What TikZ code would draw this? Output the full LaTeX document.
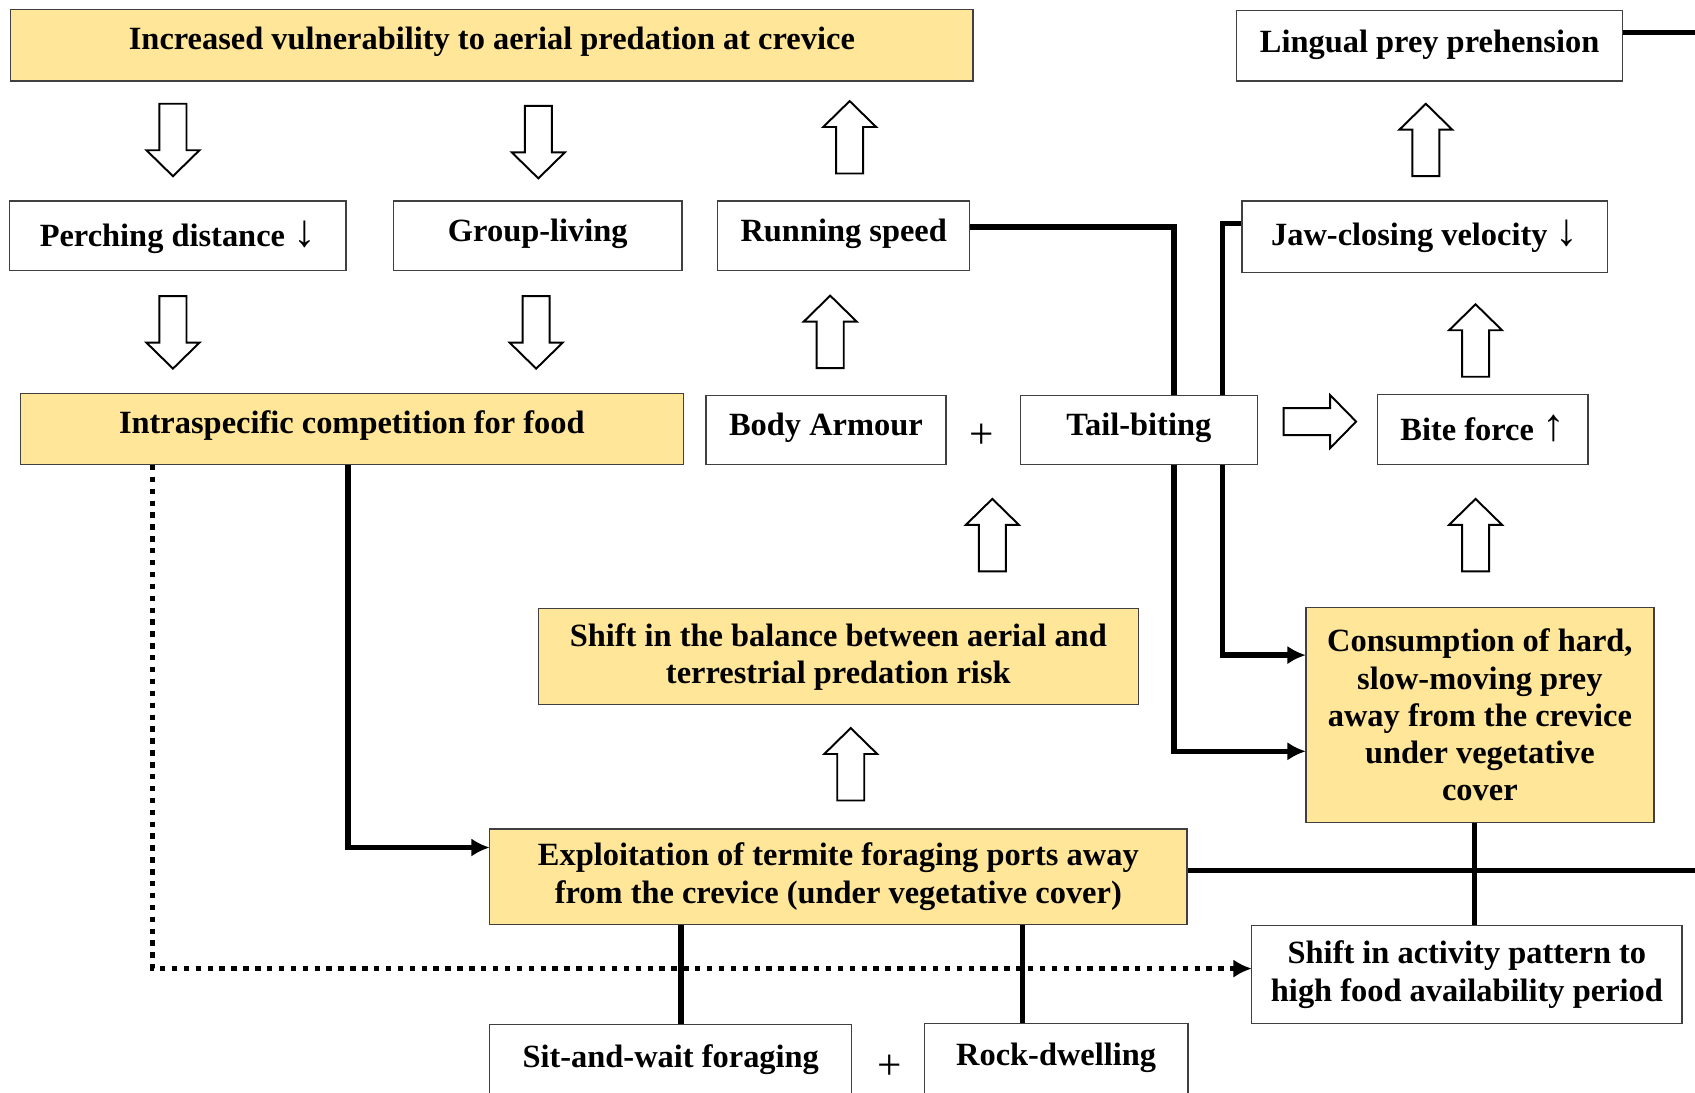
\documentclass[tikz,border=0pt]{standalone}
\usepackage{fontspec}
\setmainfont{Liberation Serif}
\usetikzlibrary{arrows.meta,backgrounds,calc}
\definecolor{boxyellow}{HTML}{FFE699}
\definecolor{bordergray}{HTML}{404040}
\newcommand{\diagfont}{\bfseries\fontsize{15}{17.25}\selectfont}
\newcommand{\dnarrow}{{\mdseries\fontsize{21}{21}\selectfont\char"2193}}
\newcommand{\uparr}{{\mdseries\fontsize{21}{21}\selectfont\char"2191}}
\tikzset{
  base/.style={draw=bordergray, line width=0.6pt, inner sep=0pt, outer sep=0pt, font=\diagfont, align=center},
  wbox/.style={base, fill=white, text height=10.5pt, text depth=#1},
  wbox/.default=3.75pt,
  ybox/.style={base, fill=boxyellow, text height=10.5pt, text depth=#1},
  ybox/.default=3.75pt,
  wmulti/.style={base, fill=white},
  ymulti/.style={base, fill=boxyellow},
  conn/.style={line width=2.4pt, -{Latex[length=8.5pt,width=8.5pt]}},
  plainline/.style={line width=2.4pt},
  dotconn/.style={line width=2.5pt, dash pattern=on 2.5pt off 3pt, -{Latex[length=8.5pt,width=8.5pt]}},
  plussign/.style={inner sep=0pt, font=\fontsize{20}{20}\selectfont},
  harrow/.pic={\draw[line width=0.9pt, fill=white] (-12.5,33.5) -- (-12.5,-9.5) -- (-24.5,-9.5) -- (0,-33.5) -- (24.5,-9.5) -- (12.5,-9.5) -- (12.5,33.5) -- cycle;}
}
\begin{document}
\begin{tikzpicture}[x=0.5pt,y=-0.5pt]
\path[use as bounding box] (0,0) rectangle (1568,1011);

% nodes
\node[ybox=6.75pt, minimum width=445pt, minimum height=33pt] (top) at (455,42) {Increased vulnerability to aerial predation at crevice};
\node[wbox=4.25pt, minimum width=178.5pt, minimum height=32.5pt] (lingual) at (1322.5,42.5) {Lingual prey prehension};

\node[wbox=0.75pt, minimum width=155.5pt, minimum height=32pt] (perch) at (164.5,218) {Perching distance \dnarrow};
\node[wbox=5.25pt, minimum width=133.5pt, minimum height=32pt] (group) at (497.5,218) {Group-living};
\node[wbox=5.25pt, minimum width=116.5pt, minimum height=32pt] (run) at (780.5,218) {Running speed};
\node[wbox=2.25pt, minimum width=169pt, minimum height=33pt] (jaw) at (1318,219) {Jaw-closing velocity \dnarrow};

\node[ybox=6.75pt, minimum width=306.5pt, minimum height=33pt] (intra) at (325.5,397) {Intraspecific competition for food};
\node[wbox=5.25pt, minimum width=111pt, minimum height=32pt] (armour) at (764,398) {Body Armour};
\node[plussign] (plusA) at (908,404) {+};
\node[wbox=5.25pt, minimum width=109.5pt, minimum height=32pt] (tail) at (1053.5,398) {Tail-biting};
\node[wbox=0.75pt, minimum width=97.5pt, minimum height=32.5pt] (bite) at (1371.5,397.5) {Bite force \uparr};

\node[ymulti, minimum width=277.5pt, minimum height=44.5pt] (balance) at (775.5,607.5) {Shift in the balance between aerial and\\terrestrial predation risk};
\node[ymulti, minimum width=161pt, minimum height=99.5pt] (consump) at (1369,661.5) {Consumption of hard,\\slow-moving prey\\away from the crevice\\under vegetative\\cover};
\node[ymulti, minimum width=322.5pt, minimum height=44pt] (exploit) at (775.5,811) {Exploitation of termite foraging ports away\\from the crevice (under vegetative cover)};
\node[wmulti, minimum width=199pt, minimum height=45.5pt] (activity) at (1357,901.5) {Shift in activity pattern to\\high food availability period};

\node[wbox=21.25pt, anchor=north, minimum width=167.5pt, minimum height=50pt] (sit) at (620.5,948) {Sit-and-wait foraging};
\node[plussign] (plusB) at (823,987) {+};
\node[wbox=22.25pt, anchor=north, minimum width=122pt, minimum height=50pt] (rock) at (977,947) {Rock-dwelling};

% hollow block arrows
\pic[rotate=180] at (160,129.5) {harrow};
\pic[rotate=180] at (498,131.5) {harrow};
\pic at (786,127) {harrow};
\pic at (1319,129.5) {harrow};
\pic[rotate=180] at (160,307.5) {harrow};
\pic[rotate=180] at (496,307.5) {harrow};
\pic at (768,307) {harrow};
\pic at (1365,315) {harrow};
\pic[rotate=-90] at (1221,390) {harrow};
\pic at (918,495) {harrow};
\pic at (1365,495) {harrow};
\pic at (787,707) {harrow};

\coordinate (edgeA) at (1575,30);
\coordinate (edgeB) at (1575,805);

% connectors
\begin{scope}[on background layer]
\fill[white] (0,0) rectangle (1568,1011);
\draw[dotconn] ([xshift=-92.25pt]intra.south) |- ([yshift=2.75pt]activity.west);
\draw[conn] ([xshift=-1.75pt]intra.south) |- ([yshift=13.5pt]exploit.west);
\draw[conn] ([yshift=4pt]run.east) -- ++(189,0) |- ([yshift=-16.75pt]consump.west);
\draw[conn] ([yshift=6pt]jaw.west) -- ++(-18,0) |- ([yshift=27.75pt]consump.west);
\draw[plainline] ([yshift=6.25pt]lingual.east) -- (edgeA);
\draw[plainline] ([yshift=3pt]exploit.east) -- (edgeB);
\draw[plainline] ([xshift=-2.5pt]consump.south) -- ([xshift=-2.5pt]consump.south |- activity.north);
\draw[plainline] ([xshift=4.75pt]sit.north) -- ([xshift=4.75pt]sit.north |- exploit.south);
\draw[plainline] ([xshift=-15.5pt]rock.north) -- ([xshift=-15.5pt]rock.north |- exploit.south);
\end{scope}
\end{tikzpicture}
\end{document}
